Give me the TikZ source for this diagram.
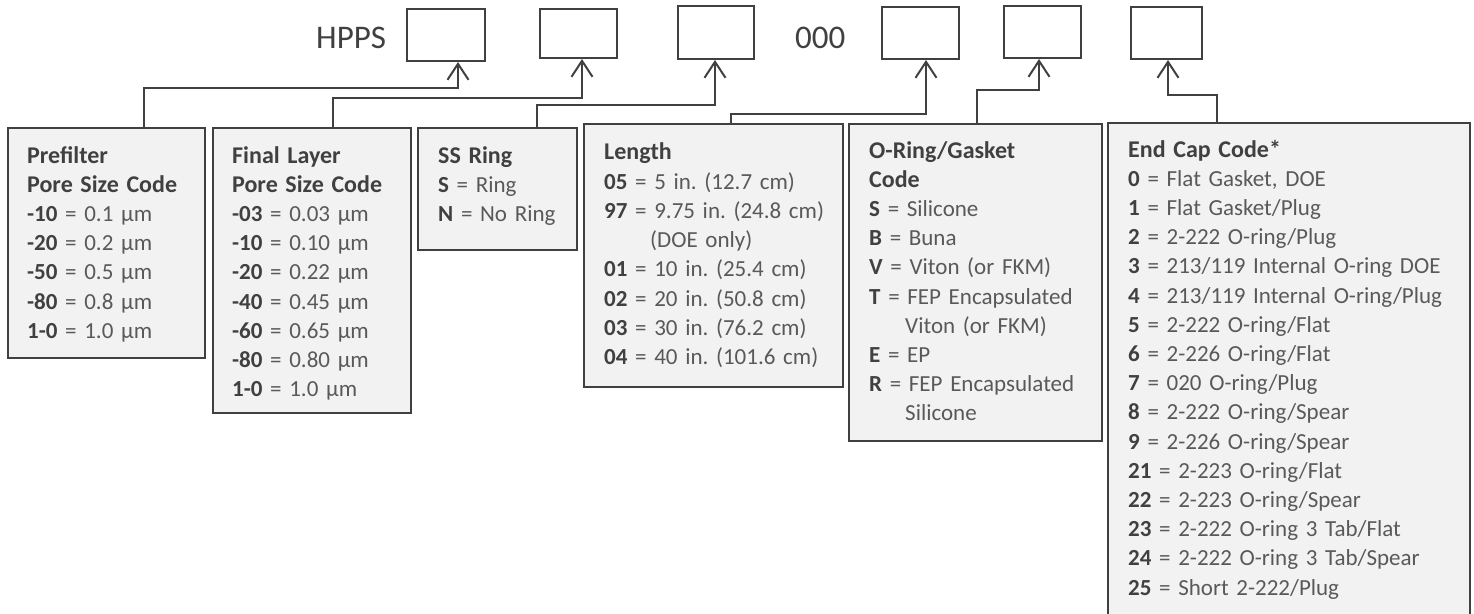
\documentclass[tikz,border=0pt]{standalone}
\usepackage{fontspec}
\setmainfont{Carlito}
\usetikzlibrary{arrows.meta}
\definecolor{boxgray}{HTML}{F2F2F2}
\definecolor{linegray}{HTML}{404040}
\definecolor{textgray}{HTML}{595959}
\newcommand{\cd}[1]{\textbf{\color{linegray}#1}}
\newcommand{\hd}[1]{{\fontsize{24}{29.2}\selectfont\bfseries\color{linegray}#1}}
\tikzset{
  codebox/.style={draw=linegray, line width=2pt, fill=boxgray, anchor=north west, inner sep=0pt},
  slot/.style={draw=linegray, line width=2pt, fill=white, inner sep=0pt},
  boxtext/.style={anchor=base west, align=left, inner sep=0pt, text width=340pt, text=textgray,
    font=\fontsize{23}{29.2}\selectfont\frenchspacing},
  partlabel/.style={inner sep=0pt, anchor=base west, text=linegray, font=\fontsize{33}{36}\selectfont},
  feed/.style={draw=linegray, line width=2pt, -{Straight Barb[length=16pt,width=21pt,line width=2pt]}},
}
\begin{document}
\begin{tikzpicture}[x=1pt,y=-1pt]
\useasboundingbox (0,0) rectangle (1474,613);
% part number slots
\node[partlabel] (hpps) at (316,48) {HPPS};
\node[partlabel] (zeros) at (795,48) {000};
\node[slot, minimum width=78pt, minimum height=52pt] (s1) at (446,35) {};
\node[slot, minimum width=77pt, minimum height=49pt] (s2) at (578.5,33.5) {};
\node[slot, minimum width=76pt, minimum height=53pt] (s3) at (716,32.5) {};
\node[slot, minimum width=77pt, minimum height=52pt] (s4) at (920.5,33) {};
\node[slot, minimum width=77pt, minimum height=52pt] (s5) at (1042.5,32) {};
\node[slot, minimum width=71pt, minimum height=52pt] (s6) at (1166.5,33) {};
% code boxes
\node[codebox, minimum width=197pt, minimum height=230pt] (pre) at (7,127) {};
\node[codebox, minimum width=198pt, minimum height=285pt] (fin) at (212,127) {};
\node[codebox, minimum width=159pt, minimum height=122pt] (ring) at (417,127) {};
\node[codebox, minimum width=259pt, minimum height=263pt] (len) at (583,123) {};
\node[codebox, minimum width=253pt, minimum height=317pt] (seal) at (848,123) {};
\node[codebox, minimum width=362pt, minimum height=520pt] (cap) at (1107,122) {};
\node[boxtext] (preText) at ([xshift=20pt,yshift=-36pt]pre.north west)
  {\hd{Prefilter}\\ \hd{Pore Size Code}\\
   \cd{-10} = 0.1 µm\\ \cd{-20} = 0.2 µm\\ \cd{-50} = 0.5 µm\\ \cd{-80} = 0.8 µm\\ \cd{1-0} = 1.0 µm};
\node[boxtext] (finText) at ([xshift=20pt,yshift=-36pt]fin.north west)
  {\hd{Final Layer}\\ \hd{Pore Size Code}\\
   \cd{-03} = 0.03 µm\\ \cd{-10} = 0.10 µm\\ \cd{-20} = 0.22 µm\\ \cd{-40} = 0.45 µm\\
   \cd{-60} = 0.65 µm\\ \cd{-80} = 0.80 µm\\ \cd{1-0} = 1.0 µm};
\node[boxtext] (ringText) at ([xshift=21pt,yshift=-36pt]ring.north west)
  {\hd{SS Ring}\\ \cd{S} = Ring\\ \cd{N} = No Ring};
\node[boxtext] (lenText) at ([xshift=21pt,yshift=-36pt]len.north west)
  {\hd{Length}\\[1pt] \cd{05} = 5 in. (12.7 cm)\\ \cd{97} = 9.75 in. (24.8 cm)\\
   \hspace*{46pt}(DOE only)\\ \cd{01} = 10 in. (25.4 cm)\\ \cd{02} = 20 in. (50.8 cm)\\
   \cd{03} = 30 in. (76.2 cm)\\ \cd{04} = 40 in. (101.6 cm)};
\node[boxtext] (sealText) at ([xshift=21pt,yshift=-35pt]seal.north west)
  {\hd{O-Ring/Gasket}\\ \hd{Code}\\ \cd{S} = Silicone\\ \cd{B} = Buna\\ \cd{V} = Viton (or FKM)\\
   \cd{T} = FEP Encapsulated\\ \hspace*{36pt}Viton (or FKM)\\ \cd{E} = EP\\
   \cd{R} = FEP Encapsulated\\ \hspace*{36pt}Silicone};
\node[boxtext] (capText) at ([xshift=21pt,yshift=-35pt]cap.north west)
  {\hd{End Cap Code*}\\ \cd{0} = Flat Gasket, DOE\\ \cd{1} = Flat Gasket/Plug\\
   \cd{2} = 2-222 O-ring/Plug\\ \cd{3} = 213/119 Internal O-ring DOE\\
   \cd{4} = 213/119 Internal O-ring/Plug\\ \cd{5} = 2-222 O-ring/Flat\\
   \cd{6} = 2-226 O-ring/Flat\\ \cd{7} = 020 O-ring/Plug\\ \cd{8} = 2-222 O-ring/Spear\\
   \cd{9} = 2-226 O-ring/Spear\\ \cd{21} = 2-223 O-ring/Flat\\ \cd{22} = 2-223 O-ring/Spear\\
   \cd{23} = 2-222 O-ring 3 Tab/Flat\\ \cd{24} = 2-222 O-ring 3 Tab/Spear\\
   \cd{25} = Short 2-222/Plug};
% connectors
\draw[feed] ([xshift=37.5pt]pre.north) |- ([xshift=12pt,yshift=-26pt]s1.south) -- ([xshift=12pt]s1.south);
\draw[feed] ([xshift=21pt]fin.north) |- ([xshift=3.5pt,yshift=-39pt]s2.south) -- ([xshift=3.5pt]s2.south);
\draw[feed] ([xshift=39.5pt]ring.north) |- ([xshift=-1pt,yshift=-45pt]s3.south) -- ([xshift=-1pt]s3.south);
\draw[feed] ([xshift=17.5pt]len.north) |- ([xshift=5.5pt,yshift=-54pt]s4.south) -- ([xshift=5.5pt]s4.south);
\draw[feed] ([xshift=1.5pt]seal.north) |- ([xshift=-3.5pt,yshift=-31pt]s5.south) -- ([xshift=-3.5pt]s5.south);
\draw[feed] ([xshift=-72pt]cap.north) |- ([xshift=1.5pt,yshift=-35pt]s6.south) -- ([xshift=1.5pt]s6.south);
\end{tikzpicture}
\end{document}
